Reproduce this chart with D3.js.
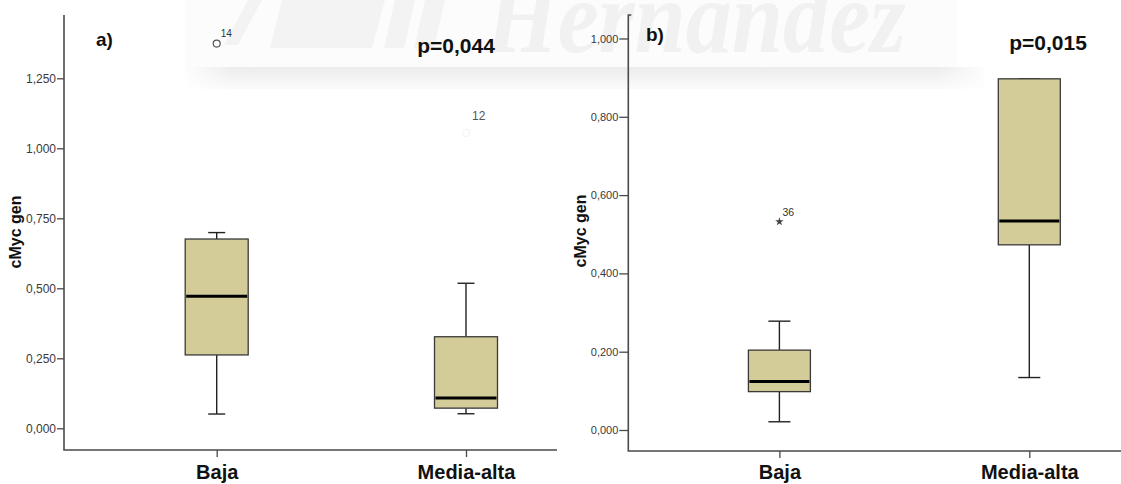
<!DOCTYPE html>
<html>
<head>
<meta charset="utf-8">
<script src="https://cdn.jsdelivr.net/npm/d3@7"></script>
<style>
  html, body { margin: 0; padding: 0; background: #fff; }
  svg { display: block; }
</style>
</head>
<body>
<svg id="chart" width="1121" height="484"></svg>
<script>
// Groups on the x axis
const categories = ["Baja", "Media-alta"];

// Panel a) cMyc gen box summaries: lower whisker, Q1, median, Q3, upper whisker
const statsA = [
  { cat: "Baja",       lw: 0.051, q1: 0.262, med: 0.472, q3: 0.676, uw: 0.699 },
  { cat: "Media-alta", lw: 0.052, q1: 0.072, med: 0.108, q3: 0.327, uw: 0.518 }
];
const outliersA = [
  { cat: "Baja",       value: 1.374, id: "14", kind: "circle" },
  { cat: "Media-alta", value: 1.055, id: "12", kind: "faint" }
];
const ticksA = [0, 0.25, 0.5, 0.75, 1.0, 1.25];
const pValueA = "p=0,044";

// Panel b) cMyc gen box summaries
const statsB = [
  { cat: "Baja",       lw: 0.021, q1: 0.098, med: 0.124, q3: 0.204, uw: 0.278 },
  { cat: "Media-alta", lw: 0.134, q1: 0.473, med: 0.534, q3: 0.897, uw: 0.897 }
];
const outliersB = [
  { cat: "Baja", value: 0.532, id: "36", kind: "star" }
];
const ticksB = [0, 0.2, 0.4, 0.6, 0.8, 1.0];
const pValueB = "p=0,015";

const yTitle = "cMyc gen";

const fmt = d3.formatLocale({ decimal: ",", thousands: ".", grouping: [3], currency: ["", ""] }).format(".3f");

const svg = d3.select("#chart");

// Faint background emblem band across the top
const defs = svg.append("defs");
const grad = defs.append("linearGradient").attr("id", "band").attr("x1", 0).attr("x2", 0).attr("y1", 0).attr("y2", 1);
grad.append("stop").attr("offset", "0%").attr("stop-color", "#ececec");
grad.append("stop").attr("offset", "100%").attr("stop-color", "#fbfbfb");
const hgrad = defs.append("linearGradient").attr("id", "bandH").attr("x1", 0).attr("x2", 1).attr("y1", 0).attr("y2", 0);
hgrad.append("stop").attr("offset", "0%").attr("stop-color", "#fff").attr("stop-opacity", 0.9);
hgrad.append("stop").attr("offset", "6%").attr("stop-color", "#fff").attr("stop-opacity", 0);
hgrad.append("stop").attr("offset", "94%").attr("stop-color", "#fff").attr("stop-opacity", 0);
hgrad.append("stop").attr("offset", "100%").attr("stop-color", "#fff").attr("stop-opacity", 0.9);

const wm = svg.append("g").attr("class", "emblem");
wm.append("rect").attr("x", 185).attr("y", 0).attr("width", 772).attr("height", 67).attr("fill", "#fcfcfc");
wm.append("rect").attr("x", 185).attr("y", 67).attr("width", 800).attr("height", 22).attr("fill", "url(#band)");
wm.append("rect").attr("x", 185).attr("y", 67).attr("width", 800).attr("height", 22).attr("fill", "url(#bandH)");
// stylised logo strokes
const logo = [
  [[248, 0], [262, 0], [238, 45], [224, 45]],
  [[282, 0], [385, 0], [372, 48], [270, 48]],
  [[395, 0], [415, 0], [404, 48], [384, 48]],
  [[425, 0], [445, 0], [434, 48], [414, 48]]
];
wm.selectAll("path.logo").data(logo).join("path")
  .attr("class", "logo")
  .attr("d", d => "M" + d.map(p => p.join(",")).join("L") + "Z")
  .attr("fill", "#f3f3f3");
wm.append("text")
  .attr("x", 486).attr("y", 52)
  .attr("font-family", "Liberation Serif, serif")
  .attr("font-style", "italic")
  .attr("font-weight", "bold")
  .attr("font-size", 104)
  .attr("textLength", 420)
  .attr("lengthAdjust", "spacingAndGlyphs")
  .attr("fill", "#f1f1f1")
  .text("Hernández");

function drawPanel(cfg) {
  const g = svg.append("g");
  const y = d3.scaleLinear().domain(cfg.yDomain).range(cfg.yRange);
  const x = d3.scalePoint().domain(categories).range(cfg.xRange);
  const axisColor = "#4a4a4a";

  // y axis
  const ya = g.append("g").attr("transform", `translate(${cfg.axisX},0)`)
    .call(d3.axisLeft(y).tickValues(cfg.ticks).tickFormat(fmt).tickSize(cfg.tickLen).tickPadding(1).tickSizeOuter(0));
  ya.select(".domain").remove();
  ya.selectAll(".tick line").attr("stroke", axisColor).attr("stroke-width", 1.3);
  ya.selectAll(".tick text").attr("font-family", "Liberation Sans, Arial, sans-serif")
    .attr("font-size", cfg.tickFont).attr("fill", "#3a3a3a");

  // axis lines
  g.append("path")
    .attr("d", `M${cfg.axisX + (cfg.hook || 0)},${cfg.axisTop}L${cfg.axisX},${cfg.axisTop}L${cfg.axisX},${cfg.axisBottom}L${cfg.axisRight},${cfg.axisBottom}`)
    .attr("fill", "none").attr("stroke", axisColor).attr("stroke-width", 1.6);

  // x axis ticks and labels
  const xa = g.append("g").attr("transform", `translate(0,${cfg.axisBottom})`)
    .call(d3.axisBottom(x).tickSize(7).tickPadding(12).tickSizeOuter(0));
  xa.select(".domain").remove();
  xa.selectAll(".tick line").attr("stroke", axisColor).attr("stroke-width", 1.3);
  xa.selectAll(".tick text")
    .attr("font-family", "Liberation Sans, Arial, sans-serif")
    .attr("font-weight", "bold").attr("font-size", 20).attr("fill", "#111")
    .attr("dy", null).attr("y", 479 - cfg.axisBottom);

  // y title
  g.append("text")
    .attr("transform", `translate(${cfg.titleX},${cfg.titleY}) rotate(-90)`)
    .attr("text-anchor", "middle")
    .attr("font-family", "Liberation Sans, Arial, sans-serif")
    .attr("font-weight", "bold").attr("font-size", 16).attr("fill", "#111")
    .text(yTitle);

  // boxes
  const bw = cfg.boxWidth, cap = cfg.capWidth;
  const box = g.selectAll("g.box").data(cfg.stats).join("g").attr("class", "box");
  box.append("line")
    .attr("x1", d => x(d.cat)).attr("x2", d => x(d.cat))
    .attr("y1", d => y(d.uw)).attr("y2", d => y(d.q3))
    .attr("stroke", "#222").attr("stroke-width", 1.4);
  box.append("line")
    .attr("x1", d => x(d.cat)).attr("x2", d => x(d.cat))
    .attr("y1", d => y(d.q1)).attr("y2", d => y(d.lw))
    .attr("stroke", "#222").attr("stroke-width", 1.4);
  box.append("line")
    .attr("x1", d => x(d.cat) - cap / 2).attr("x2", d => x(d.cat) + cap / 2)
    .attr("y1", d => y(d.uw)).attr("y2", d => y(d.uw))
    .attr("stroke", "#222").attr("stroke-width", 1.4);
  box.append("line")
    .attr("x1", d => x(d.cat) - cap / 2).attr("x2", d => x(d.cat) + cap / 2)
    .attr("y1", d => y(d.lw)).attr("y2", d => y(d.lw))
    .attr("stroke", "#222").attr("stroke-width", 1.4);
  box.append("rect")
    .attr("x", d => x(d.cat) - bw / 2).attr("width", bw)
    .attr("y", d => y(d.q3)).attr("height", d => y(d.q1) - y(d.q3))
    .attr("fill", "#d3cb98").attr("stroke", "#3a3a3a").attr("stroke-width", 1.3);
  box.append("line")
    .attr("x1", d => x(d.cat) - bw / 2 + 1).attr("x2", d => x(d.cat) + bw / 2 - 1)
    .attr("y1", d => y(d.med)).attr("y2", d => y(d.med))
    .attr("stroke", "#000").attr("stroke-width", 3);

  // outliers
  cfg.outliers.forEach(o => {
    const cx = x(o.cat), cy = y(o.value);
    if (o.kind === "circle") {
      g.append("circle").attr("cx", cx).attr("cy", cy).attr("r", 3.5)
        .attr("fill", "#fff").attr("stroke", "#555").attr("stroke-width", 1.2);
      g.append("text").attr("x", cx + 4).attr("y", cy - 7)
        .attr("font-family", "Liberation Sans, Arial, sans-serif").attr("font-size", 10).attr("fill", "#333").text(o.id);
    } else if (o.kind === "star") {
      g.append("path").attr("transform", `translate(${cx},${cy})`)
        .attr("d", d3.symbol(d3.symbolStar, 22)())
        .attr("fill", "#444");
      g.append("text").attr("x", cx + 3).attr("y", cy - 6)
        .attr("font-family", "Liberation Sans, Arial, sans-serif").attr("font-size", 10.5).attr("fill", "#333").text(o.id);
    } else {
      g.append("circle").attr("cx", cx).attr("cy", cy).attr("r", 3.5)
        .attr("fill", "none").attr("stroke", "#f4f4f4").attr("stroke-width", 1.2);
      g.append("text").attr("x", cx + 6).attr("y", cy - 13)
        .attr("font-family", "Liberation Sans, Arial, sans-serif").attr("font-size", 12).attr("fill", "#555").text(o.id);
    }
  });

  // panel letter and p value
  g.append("text").attr("x", cfg.letterX).attr("y", cfg.letterY)
    .attr("font-family", "Liberation Sans, Arial, sans-serif")
    .attr("font-weight", "bold").attr("font-size", 19).attr("fill", "#111").text(cfg.letter);
  g.append("text").attr("x", cfg.pX).attr("y", cfg.pY).attr("text-anchor", "middle")
    .attr("font-family", "Liberation Sans, Arial, sans-serif")
    .attr("font-weight", "bold").attr("font-size", 21).attr("fill", "#111").text(cfg.p);
}

drawPanel({
  stats: statsA, outliers: outliersA, ticks: ticksA, p: pValueA, letter: "a)",
  yDomain: [0, 1.25], yRange: [428.3, 78.3],
  xRange: [216.7, 466],
  axisX: 64, axisTop: 15, axisBottom: 450, axisRight: 557,
  tickLen: 7, tickFont: 12, boxWidth: 63, capWidth: 17,
  titleX: 21, titleY: 232,
  letterX: 96, letterY: 46, pX: 456, pY: 53
});

drawPanel({
  stats: statsB, outliers: outliersB, ticks: ticksB, p: pValueB, letter: "b)",
  yDomain: [0, 1.0], yRange: [430, 38.5],
  xRange: [779.4, 1029.3],
  axisX: 628.3, axisTop: 15, axisBottom: 451, axisRight: 1121, hook: 3,
  tickLen: 9, tickFont: 11, boxWidth: 62, capWidth: 22,
  titleX: 586, titleY: 231,
  letterX: 646, letterY: 41, pX: 1048, pY: 50
});
</script>
</body>
</html>
